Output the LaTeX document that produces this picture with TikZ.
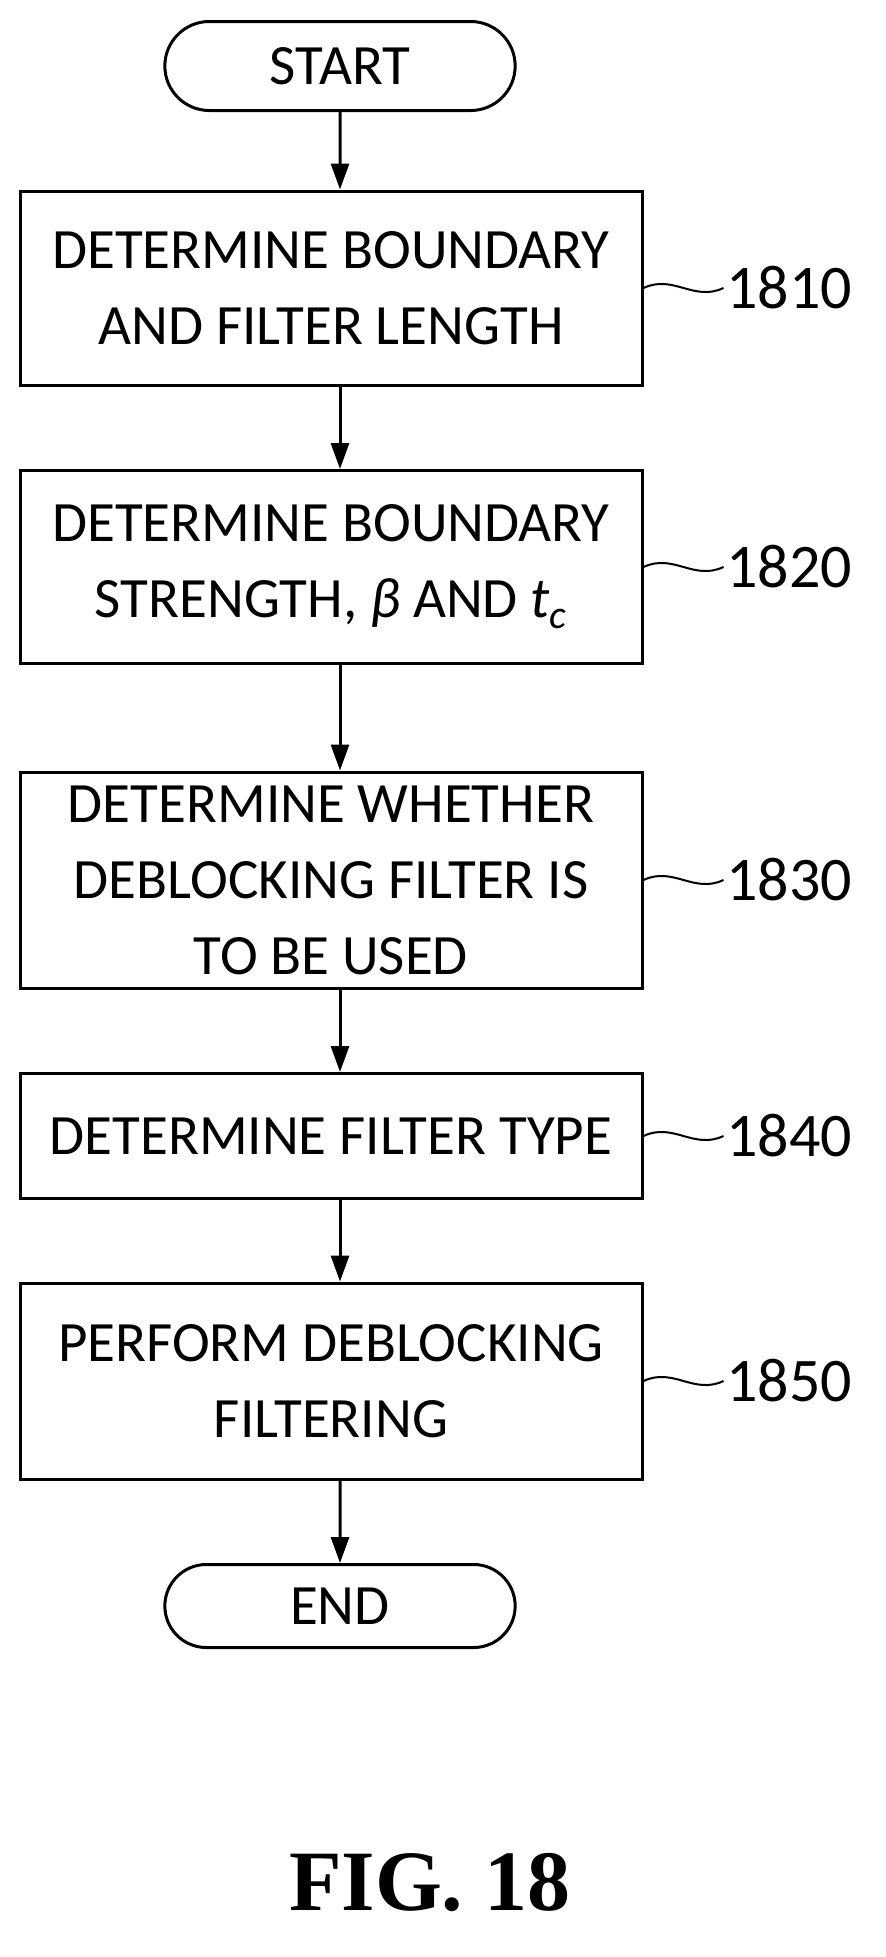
\documentclass[tikz,border=0pt]{standalone}
\usepackage{fontspec}
\setmainfont{Liberation Serif}
\newfontfamily\boxfont{Carlito}
\usetikzlibrary{arrows.meta,shapes.misc}
\tikzset{
  flowbox/.style={draw, line width=3pt, minimum width=622pt, align=center, font=\boxfont\fontsize{57}{76}\selectfont},
  term/.style={draw, line width=3pt, rounded rectangle, minimum width=357pt, minimum height=89pt, font=\boxfont\fontsize{57}{76}\selectfont},
  flow/.style={line width=3pt, -{Triangle[width=18pt,length=26pt]}},
  tag/.style={anchor=west, font=\boxfont\fontsize{62}{76}\selectfont},
}
\newcommand{\squig}[2]{\draw[line width=2pt] (#1) .. controls +(30,-14) and +(-30,14) .. ++(80,0) node[tag, inner sep=2pt]{#2};}
\begin{document}
\begin{tikzpicture}[x=1pt,y=-1pt]
\useasboundingbox[fill=white] (0,0) rectangle (886,1957);
\node[term] (start) at (340,66) {START};
\node[flowbox, minimum height=194pt] (s1810) at (331,288) {DETERMINE BOUNDARY\\AND FILTER LENGTH};
\node[flowbox, minimum height=193pt] (s1820) at (331,567) {DETERMINE BOUNDARY\\STRENGTH, \textit{β} AND \textit{t\textsubscript{c}}};
\node[flowbox, minimum height=216pt] (s1830) at (331,880) {DETERMINE WHETHER\\DEBLOCKING FILTER IS\\TO BE USED};
\node[flowbox, minimum height=125pt] (s1840) at (331,1136) {DETERMINE FILTER TYPE};
\node[flowbox, minimum height=196pt] (s1850) at (331,1381) {PERFORM DEBLOCKING\\FILTERING};
\node[term, minimum height=83pt] (end) at (340,1606) {END};
% connectors
\draw[flow] (start) -- (start |- s1810.north);
\draw[flow] (start |- s1810.south) -- (start |- s1820.north);
\draw[flow] (start |- s1820.south) -- (start |- s1830.north);
\draw[flow] (start |- s1830.south) -- (start |- s1840.north);
\draw[flow] (start |- s1840.south) -- (start |- s1850.north);
\draw[flow] (start |- s1850.south) -- (end);
% reference numerals
\squig{s1810.east}{1810}
\squig{s1820.east}{1820}
\squig{s1830.east}{1830}
\squig{s1840.east}{1840}
\squig{s1850.east}{1850}
\node[font=\bfseries\fontsize{86}{100}\selectfont] (fig) at (430,1882) {FIG. 18};
\end{tikzpicture}
\end{document}
